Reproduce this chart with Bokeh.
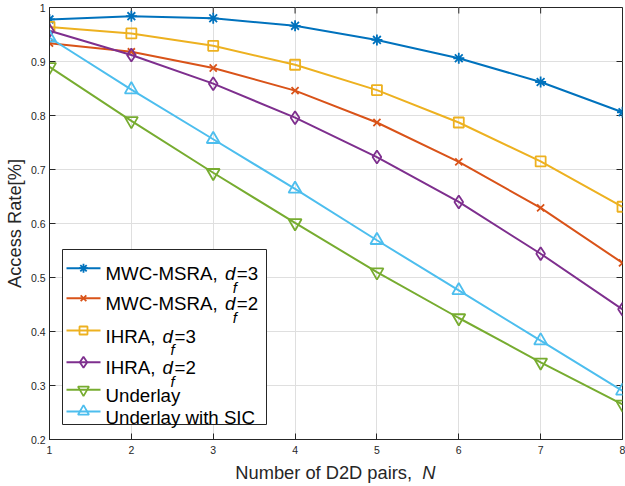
import math
from bokeh.plotting import figure
from bokeh.models import Range1d, FixedTicker, Label, Div
from bokeh.layouts import column
from bokeh.embed import file_html
from bokeh.resources import INLINE

# ---------------- data ----------------
n_pairs = [1, 2, 3, 4, 5, 6, 7, 8]
mwc_msra_df3 = [0.978, 0.984, 0.980, 0.966, 0.940, 0.906, 0.862, 0.806]
mwc_msra_df2 = [0.934, 0.918, 0.888, 0.846, 0.787, 0.714, 0.629, 0.527]
ihra_df3 = [0.964, 0.952, 0.929, 0.894, 0.847, 0.787, 0.715, 0.631]
ihra_df2 = [0.957, 0.912, 0.859, 0.796, 0.723, 0.640, 0.544, 0.441]
underlay = [0.890, 0.790, 0.694, 0.601, 0.510, 0.425, 0.343, 0.265]
underlay_sic = [0.944, 0.848, 0.756, 0.664, 0.569, 0.476, 0.383, 0.290]

legend_prefix = ["MWC-MSRA, ", "MWC-MSRA, ", "IHRA, ", "IHRA, ", "Underlay", "Underlay with SIC"]
legend_df = ["3", "2", "3", "2", None, None]

x_ticks = [1, 2, 3, 4, 5, 6, 7, 8]
x_tick_labels = ["1", "2", "3", "4", "5", "6", "7", "8"]
y_ticks = [0.2, 0.3, 0.4, 0.5, 0.6, 0.7, 0.8, 0.9, 1.0]
y_tick_labels = ["0.2", "0.3", "0.4", "0.5", "0.6", "0.7", "0.8", "0.9", "1"]
x_label_text = "Number of D2D pairs,  "
x_label_var = "N"
y_label_text = "Access Rate[%]"

# ---------------- styles ----------------
series = [mwc_msra_df3, mwc_msra_df2, ihra_df3, ihra_df2, underlay, underlay_sic]
colors = ["#0072BD", "#D95319", "#EDB120", "#7E2F8E", "#77AC30", "#4DBEEE"]
markers = ["asterisk", "x", "square", "diamond", "inverted_triangle", "triangle"]
msizes = [11, 10, 10, 13, 13, 13]

FONT = "Liberation Sans"
AX = "#262626"
W, H = 625, 486
DH = 26                      # strip below the figure that holds the x-axis title
PH = H - DH                  # figure height
FL, FT, FR = 49, 7, 3
FB = PH - 439
FW = W - FL - FR
FH = PH - FT - FB

ARIAL = {'M': 833, 'W': 944, 'C': 722, '-': 333, 'S': 667, 'R': 722, 'A': 667, ',': 278,
         ' ': 278, 'I': 278, 'H': 722, 'U': 722, 'n': 556, 'd': 556, 'e': 556, 'r': 333,
         'l': 222, 'a': 556, 'y': 500, 'w': 722, 'i': 222, 't': 278, 'h': 556, 'N': 722,
         'u': 556, 'm': 833, 'b': 556, 'o': 556, 'f': 278, 'D': 722, '2': 556, 'p': 556,
         's': 500, '=': 584, '3': 556}


def tw(s, size):
    return sum(ARIAL.get(c, 556) for c in s) * size / 1000.0


p = figure(width=W, height=PH, x_range=Range1d(1, 8), y_range=Range1d(0.2, 1.0),
           output_backend="svg", toolbar_location=None,
           min_border_left=FL, min_border_right=FR, min_border_top=FT, min_border_bottom=FB,
           background_fill_color="white", border_fill_color="white")
p.outline_line_color = AX
p.outline_line_width = 1
p.extra_x_ranges = {"px": Range1d(0, FW)}
p.extra_y_ranges = {"px": Range1d(FH, 0)}


def style_axis(ax, ticks, labels):
    ax.ticker = FixedTicker(ticks=ticks)
    ax.major_label_overrides = {t: l for t, l in zip(ticks, labels)}
    ax.axis_line_color = AX
    ax.axis_line_width = 1
    ax.major_tick_line_color = AX
    ax.major_tick_in = 6
    ax.major_tick_out = 0
    ax.minor_tick_line_color = None
    ax.major_label_text_font = FONT
    ax.major_label_text_color = AX
    ax.major_label_text_font_size = "10.5px"


AL = 18.3
style_axis(p.xaxis[0], x_ticks, x_tick_labels)
p.xaxis[0].major_label_standoff = 6
style_axis(p.yaxis[0], y_ticks, y_tick_labels)
p.yaxis[0].major_label_standoff = 4
p.yaxis[0].axis_label = y_label_text
p.yaxis[0].axis_label_text_font = FONT
p.yaxis[0].axis_label_text_font_size = f"{AL}px"
p.yaxis[0].axis_label_text_font_style = "normal"
p.yaxis[0].axis_label_text_color = AX
p.yaxis[0].axis_label_standoff = 3

p.xgrid.ticker = FixedTicker(ticks=x_ticks)
p.ygrid.ticker = FixedTicker(ticks=y_ticks)
p.xgrid.grid_line_color = "#dfdfdf"
p.ygrid.grid_line_color = "#dfdfdf"

# inward ticks on the top and right edges of the box
TL = 6
p.segment(x0=x_ticks, x1=x_ticks, y0=[0] * len(x_ticks), y1=[TL] * len(x_ticks),
          y_range_name="px", line_color=AX, line_width=1)
p.segment(x0=[FW - TL] * len(y_ticks), x1=[FW] * len(y_ticks), y0=y_ticks, y1=y_ticks,
          x_range_name="px", line_color=AX, line_width=1)

# ---------------- data series ----------------
for ys, c, m, s in zip(series, colors, markers, msizes):
    p.line(n_pairs, ys, line_color=c, line_width=2)
    p.scatter(n_pairs, ys, marker=m, size=s, line_color=c, fill_color=None, line_width=1.8)

# ---------------- legend (pixel coords relative to frame) ----------------
box_l, box_t, box_r, box_b = 62, 249, 266, 424
p.quad(left=[box_l - FL], right=[box_r - FL], top=[box_t - FT], bottom=[box_b - FT],
       x_range_name="px", y_range_name="px", fill_color="white", line_color=AX, line_width=1)
row_y = [267.7, 297.7, 330.0, 361.7, 389.3, 411.0]
line_x0, line_x1, mark_x, text_x = 66, 100, 83, 105
LS = 18.7
SUB = 15
for i, (c, m, s) in enumerate(zip(colors, markers, msizes)):
    yy = row_y[i] - FT
    p.line([line_x0 - FL, line_x1 - FL], [yy, yy], x_range_name="px", y_range_name="px",
           line_color=c, line_width=2)
    p.scatter([mark_x - FL], [yy], marker=m, size=s - 2, x_range_name="px", y_range_name="px",
              line_color=c, fill_color=None, line_width=1.8)
    base = yy + 5.5
    pre = legend_prefix[i]
    p.add_layout(Label(x=text_x - FL, y=base, x_range_name="px", y_range_name="px",
                       text=pre.rstrip(), text_font=FONT, text_font_size=f"{LS}px",
                       text_color="black", text_align="left", text_baseline="alphabetic"))
    if legend_df[i] is not None:
        dx = text_x + tw(pre, LS) + 2
        p.add_layout(Label(x=dx - FL, y=base, x_range_name="px", y_range_name="px",
                           text="d", text_font=FONT, text_font_size=f"{LS}px",
                           text_font_style="italic", text_color="black",
                           text_align="left", text_baseline="alphabetic"))
        fx = dx + tw("d", LS) - 2.5
        p.add_layout(Label(x=fx - FL, y=base + 13.5, x_range_name="px", y_range_name="px",
                           text="f", text_font=FONT, text_font_size=f"{SUB}px",
                           text_font_style="italic", text_color="black",
                           text_align="left", text_baseline="alphabetic"))
        ex = dx + tw("d", LS) + 1.5
        p.add_layout(Label(x=ex - FL, y=base, x_range_name="px", y_range_name="px",
                           text="=" + legend_df[i], text_font=FONT, text_font_size=f"{LS}px",
                           text_color="black", text_align="left", text_baseline="alphabetic"))

# ---------------- x axis title (HTML strip under the figure) ----------------
total = tw(x_label_text, AL) + tw(x_label_var, AL)
x0 = FL + FW / 2.0 - total / 2.0
top_off = 479 - PH - 0.85 * AL + 0.5
html = (f'<div style="position:absolute;left:{x0:.1f}px;top:{top_off:.1f}px;margin:0;'
        f"font-family:'{FONT}';font-size:{AL}px;line-height:{AL}px;color:{AX};"
        f'white-space:pre;">{x_label_text}<i>{x_label_var}</i></div>')
xtitle = Div(text=html, width=W, height=DH, margin=0)

layout = column(p, xtitle, spacing=0)
open("out.html", "w").write(file_html(layout, INLINE))
